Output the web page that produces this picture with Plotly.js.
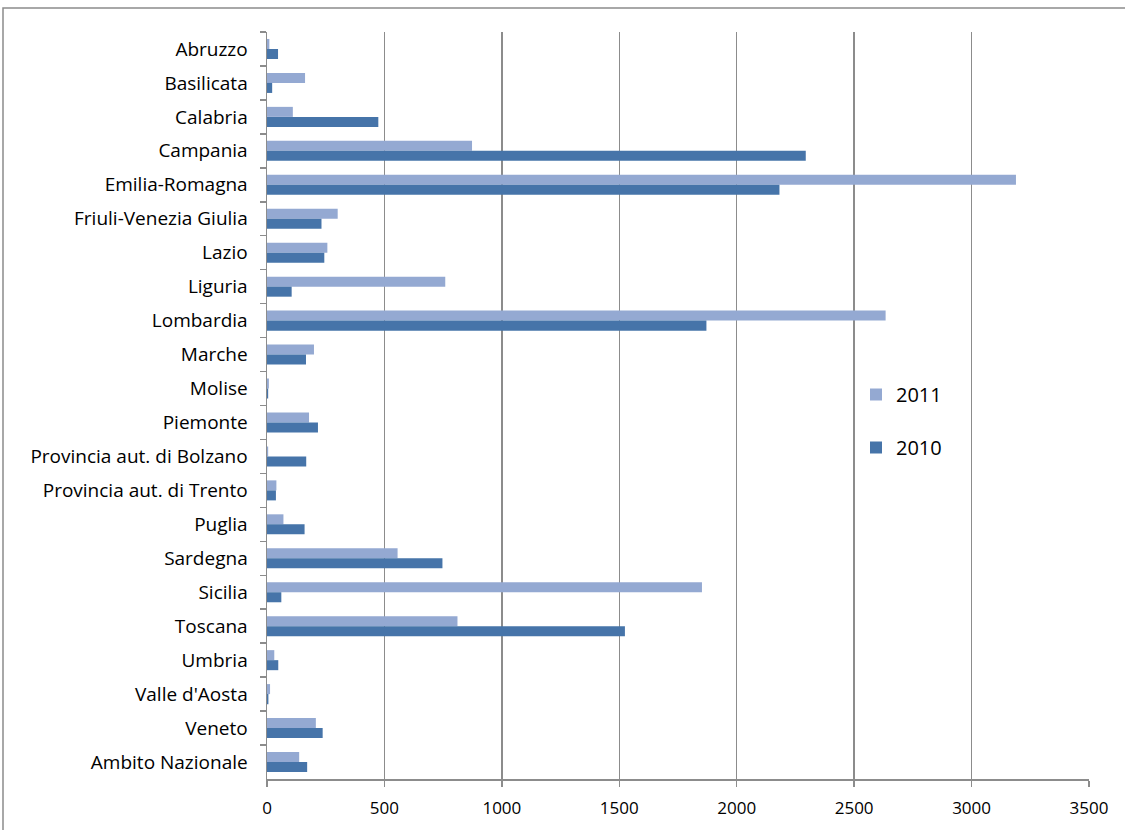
<!DOCTYPE html>
<html>
<head>
<meta charset="utf-8">
<script src="https://cdn.plot.ly/plotly-3.0.1.min.js"></script>
<style>
html,body{margin:0;padding:0;background:#fff;}
#chart{width:1125px;height:830px;}
</style>
</head>
<body>
<div id="chart"></div>
<script>
const regions = ["Abruzzo","Basilicata","Calabria","Campania","Emilia-Romagna","Friuli-Venezia Giulia","Lazio","Liguria","Lombardia","Marche","Molise","Piemonte","Provincia aut. di Bolzano","Provincia aut. di Trento","Puglia","Sardegna","Sicilia","Toscana","Umbria","Valle d'Aosta","Veneto","Ambito Nazionale"];
const values2011 = [10,162,110,873,3189,301,257,759,2634,200,8,179,5,40,70,556,1852,811,31,13,208,137];
const values2010 = [47,22,474,2294,2182,232,244,105,1871,166,5,217,167,38,160,747,61,1524,48,6,237,171];
const seriesNames = ["2011","2010"];
const xTicks = [0,500,1000,1500,2000,2500,3000,3500];

const W = 1125, H = 830;
const m = {l:267, r:36, t:32, b:51};
const pw = W - m.l - m.r, ph = H - m.t - m.b;
const fontFam = "'Open Sans', Lato, sans-serif";

const traces = [
  {type:'bar', orientation:'h', name:seriesNames[0], y:regions, x:values2011,
   marker:{color:'#94A9D2'}, legendgroup:'a'},
  {type:'bar', orientation:'h', name:seriesNames[1], y:regions, x:values2010,
   marker:{color:'#4674A9'}, legendgroup:'b'}
];

const layout = {
  width:W, height:H,
  margin:m,
  paper_bgcolor:'#fff', plot_bgcolor:'#fff',
  font:{family:fontFam, size:16, color:'#000'},
  barmode:'group', bargap:0.41, bargroupgap:0,
  showlegend:true,
  legend:{x:(856-m.l)/pw, y:(m.t+ph-375)/ph, xanchor:'left', yanchor:'top',
          traceorder:'grouped', tracegroupgap:24, font:{size:20, family:fontFam},
          bgcolor:'rgba(0,0,0,0)', itemwidth:30},
  xaxis:{range:[0,3500], tickvals:xTicks, ticktext:xTicks.map(String),
         showgrid:true, gridcolor:'#8C8C8C', gridwidth:1.5,
         showline:true, linecolor:'#8C8C8C', linewidth:1.5,
         ticks:'outside', ticklen:6, tickcolor:'#8C8C8C', tickwidth:1.5,
         ticklabelstandoff:7, zeroline:false, fixedrange:true,
         tickfont:{size:17, family:fontFam}},
  yaxis:{type:'category', autorange:'reversed',
         showgrid:false, showline:true, linecolor:'#8C8C8C', linewidth:1.5,
         ticks:'outside', ticklen:6, tickcolor:'#8C8C8C', tickwidth:1.5,
         tickson:'boundaries', ticklabelstandoff:14, zeroline:false,
         tickfont:{size:19, family:fontFam}},
  shapes:[
    {type:'rect', xref:'paper', yref:'paper',
     x0:(3-m.l)/pw, x1:(W+5-m.l)/pw, y0:-(H+5-m.t-ph)/ph, y1:(m.t+ph-8)/ph,
     line:{color:'#8C8C8C', width:1.5}, fillcolor:'rgba(0,0,0,0)', layer:'below'}
  ]
};

Plotly.newPlot('chart', traces, layout, {displayModeBar:false, staticPlot:true});
</script>
</body>
</html>
